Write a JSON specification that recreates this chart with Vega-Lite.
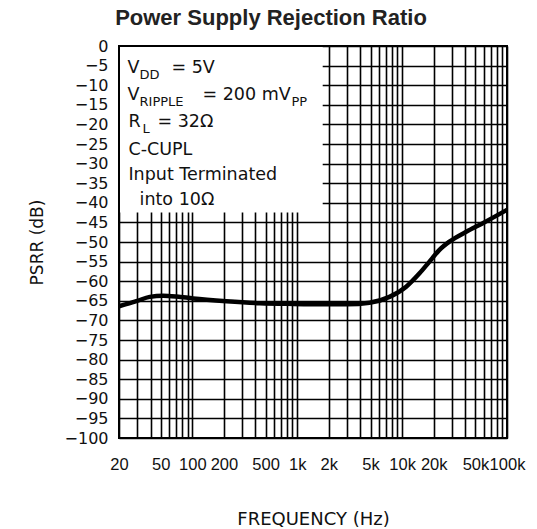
{
  "$schema": "https://vega.github.io/schema/vega-lite/v6.json",
  "width": 388,
  "height": 392,
  "autosize": {"type": "none"},
  "padding": {"left": 119, "top": 46, "right": 30, "bottom": 91},
  "background": "white",
  "title": {
    "text": "Power Supply Rejection Ratio",
    "font": "Liberation Sans",
    "fontSize": 22,
    "fontWeight": "bold",
    "color": "#222222",
    "anchor": "middle",
    "frame": "group",
    "dx": -42,
    "offset": 8
  },
  "config": {
    "view": {"stroke": "black", "strokeWidth": 2}
  },
  "datasets": {
    "curve": [
      {"freq": 20, "psrr": -66.4},
      {"freq": 29.3, "psrr": -65.1},
      {"freq": 39.3, "psrr": -64.0},
      {"freq": 52.6, "psrr": -63.7},
      {"freq": 70.6, "psrr": -63.9},
      {"freq": 101.8, "psrr": -64.4},
      {"freq": 212, "psrr": -65.1},
      {"freq": 441, "psrr": -65.6},
      {"freq": 918, "psrr": -65.8},
      {"freq": 1910, "psrr": -65.9},
      {"freq": 3000, "psrr": -65.9},
      {"freq": 4886, "psrr": -65.5},
      {"freq": 7584, "psrr": -64.0},
      {"freq": 10940, "psrr": -61.4},
      {"freq": 14660, "psrr": -58.0},
      {"freq": 18240, "psrr": -55.0},
      {"freq": 22710, "psrr": -52.0},
      {"freq": 28300, "psrr": -49.9},
      {"freq": 40840, "psrr": -47.4},
      {"freq": 58800, "psrr": -45.2},
      {"freq": 100000, "psrr": -41.8}
    ],
    "box": [
      {"f1": 20, "f2": 1750, "d1": 0, "d2": -42.5}
    ],
    "frame": [
      {"edge": "left", "freq": 20, "db": 0}
    ],
    "notes": [
      {"kind": "main", "freq": 24.1, "db": -6.9, "text": "V"},
      {"kind": "sub", "freq": 31.4, "db": -8.4, "text": "DD"},
      {"kind": "main", "freq": 63.3, "db": -6.9, "text": "= 5V"},
      {"kind": "main", "freq": 24.1, "db": -13.8, "text": "V"},
      {"kind": "sub", "freq": 31.4, "db": -15.3, "text": "RIPPLE"},
      {"kind": "main", "freq": 125, "db": -13.8, "text": "= 200 mV"},
      {"kind": "sub", "freq": 882, "db": -15.3, "text": "PP"},
      {"kind": "main", "freq": 24.6, "db": -20.7, "text": "R"},
      {"kind": "sub", "freq": 33.5, "db": -22.2, "text": "L"},
      {"kind": "main", "freq": 46.5, "db": -20.7, "text": "= 32Ω"},
      {"kind": "main", "freq": 24.6, "db": -27.8, "text": "C-CUPL"},
      {"kind": "main", "freq": 24.6, "db": -34.2, "text": "Input Terminated"},
      {"kind": "main", "freq": 31.4, "db": -40.6, "text": "into 10Ω"}
    ]
  },
  "encoding": {
    "x": {
      "type": "quantitative",
      "scale": {"type": "log", "domain": [20, 100000], "nice": false},
      "axis": {
        "values": [20,30,40,50,60,70,80,90,100,200,300,400,500,600,700,800,900,1000,2000,3000,4000,5000,6000,7000,8000,9000,10000,20000,30000,40000,50000,60000,70000,80000,90000,100000],
        "labelExpr": "indexof([20,50,100,200,500,1000,2000,5000,10000,20000,50000,100000], datum.value) >= 0 ? (datum.value >= 1000 ? (datum.value / 1000) + 'k' : '' + datum.value) : ''",
        "labelOverlap": false,
        "labelFlush": false,
        "labelBound": false,
        "grid": true,
        "gridColor": "black",
        "gridOpacity": 1,
        "gridWidth": 1.6,
        "domain": false,
        "ticks": false,
        "labelFont": "Liberation Sans",
        "labelFontSize": 16.5,
        "labelColor": "#111111",
        "labelPadding": 18,
        "title": "FREQUENCY (Hz)",
        "titleFont": "DejaVu Sans",
        "titleFontSize": 18,
        "titleFontWeight": "normal",
        "titleColor": "#111111",
        "titlePadding": 38
      }
    },
    "y": {
      "type": "quantitative",
      "scale": {"domain": [-100, 0], "nice": false},
      "axis": {
        "values": [-100,-95,-90,-85,-80,-75,-70,-65,-60,-55,-50,-45,-40,-35,-30,-25,-20,-15,-10,-5,0],
        "labelOverlap": false,
        "labelFlush": false,
        "labelBound": false,
        "grid": true,
        "gridColor": "black",
        "gridOpacity": 1,
        "gridWidth": 1.6,
        "domain": false,
        "ticks": false,
        "labelFont": "DejaVu Sans",
        "labelFontSize": 16,
        "labelColor": "#111111",
        "labelPadding": 11,
        "title": "PSRR (dB)",
        "titleFont": "DejaVu Sans",
        "titleFontSize": 17,
        "titleFontWeight": "normal",
        "titleColor": "#111111",
        "titlePadding": 18
      }
    }
  },
  "layer": [
    {
      "data": {"name": "box"},
      "mark": {"type": "rect", "fill": "white", "stroke": null},
      "encoding": {
        "x": {"field": "f1"},
        "x2": {"field": "f2"},
        "y": {"field": "d1"},
        "y2": {"field": "d2"}
      }
    },
    {
      "data": {"name": "curve"},
      "mark": {"type": "line", "color": "black", "strokeWidth": 4.5, "interpolate": "monotone"},
      "encoding": {
        "x": {"field": "freq"},
        "y": {"field": "psrr"}
      }
    },
    {
      "data": {"name": "frame"},
      "mark": {"type": "rule", "color": "black", "strokeWidth": 2},
      "encoding": {"x": {"field": "freq"}}
    },
    {
      "data": {"name": "frame"},
      "mark": {"type": "rule", "color": "black", "strokeWidth": 2},
      "encoding": {"y": {"field": "db"}}
    },
    {
      "data": {"name": "notes"},
      "transform": [{"filter": "datum.kind == 'main'"}],
      "mark": {"type": "text", "align": "left", "baseline": "alphabetic", "font": "DejaVu Sans", "fontSize": 17.5, "color": "#111111"},
      "encoding": {
        "x": {"field": "freq"},
        "y": {"field": "db"},
        "text": {"field": "text"}
      }
    },
    {
      "data": {"name": "notes"},
      "transform": [{"filter": "datum.kind == 'sub'"}],
      "mark": {"type": "text", "align": "left", "baseline": "alphabetic", "font": "DejaVu Sans", "fontSize": 13, "color": "#111111"},
      "encoding": {
        "x": {"field": "freq"},
        "y": {"field": "db"},
        "text": {"field": "text"}
      }
    }
  ]
}
